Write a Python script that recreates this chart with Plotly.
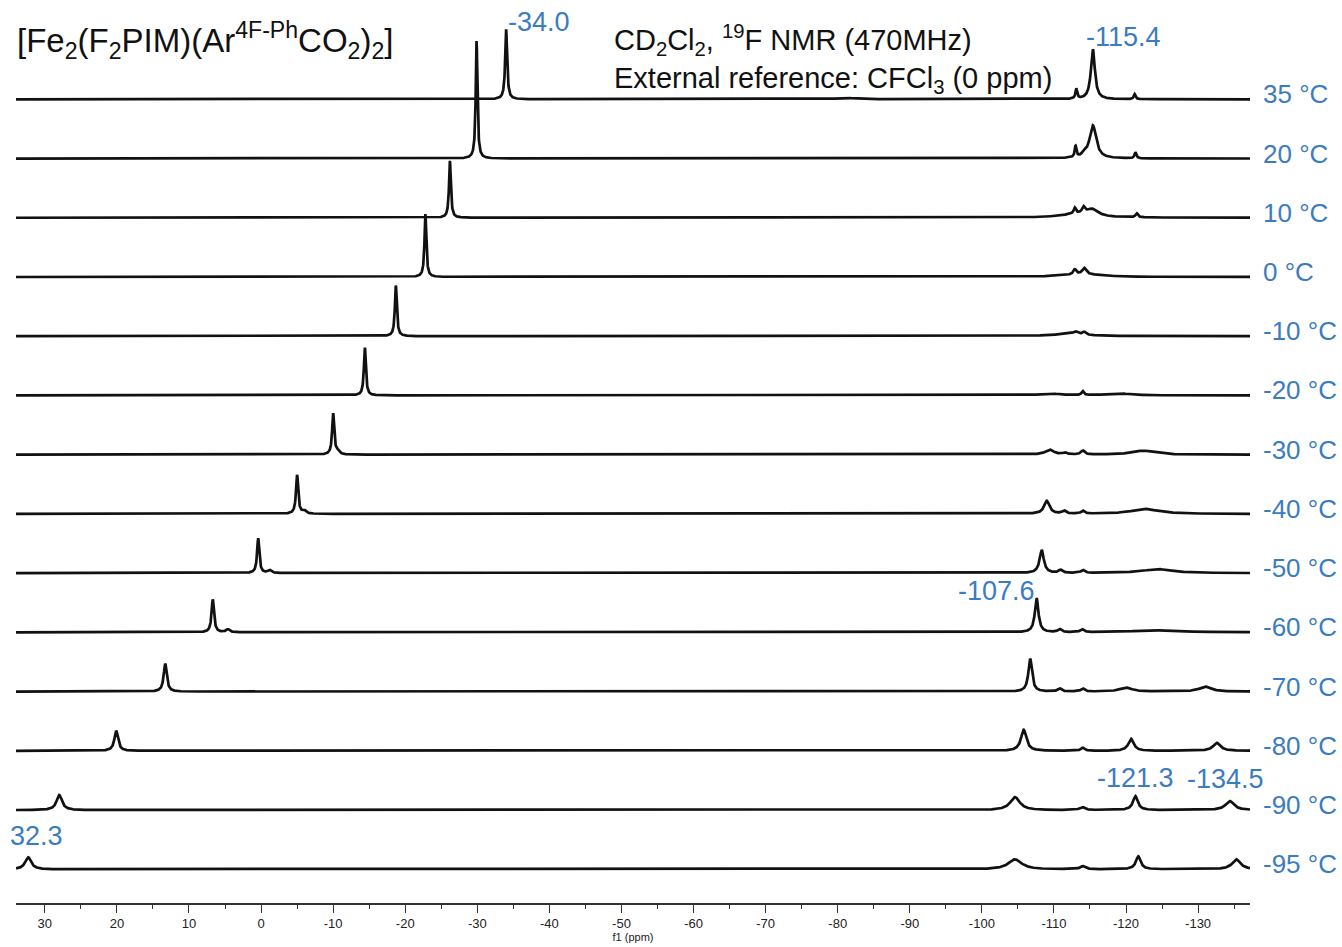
import numpy as np
import plotly.graph_objects as go

# ---------------- data ----------------
temperatures = ["35 °C", "20 °C", "10 °C", "0 °C", "-10 °C", "-20 °C", "-30 °C",
                "-40 °C", "-50 °C", "-60 °C", "-70 °C", "-80 °C", "-90 °C", "-95 °C"]

# each spectrum: list of (shift / ppm, intensity, half-width / ppm)
spec_35 = [(-34.0, 70, 0.16), (-115.4, 50, 0.33), (-113.1, 10, 0.14), (-121.2, 5, 0.15), (-81.0, 1.5, 1.5)]
spec_20 = [(-29.9, 118, 0.14), (-115.4, 33, 0.55), (-113.0, 11, 0.14), (-114.2, 4, 0.3), (-121.3, 6, 0.15)]
spec_10 = [(-26.2, 57, 0.15), (-112.9, 6, 0.2), (-114.1, 6, 0.25), (-115.3, 7, 1.0), (-113.0, 3, 3.0), (-121.5, 4, 0.2)]
spec_0 = [(-22.8, 63, 0.15), (-112.9, 5, 0.25), (-114.2, 6, 0.3), (-114.0, 3, 3.0)]
spec_m10 = [(-18.7, 51, 0.16), (-113.0, 3, 0.4), (-114.2, 3, 0.3), (-112.0, 2, 3.0)]
spec_m20 = [(-14.4, 48, 0.16), (-109.5, 2, 1.5), (-114.0, 4, 0.2), (-119.0, 2, 2.0)]
spec_m30 = [(-10.0, 41, 0.17), (-10.6, 3, 0.3), (-109.4, 5, 0.7), (-111.5, 2, 0.3), (-114.0, 4, 0.3), (-122.4, 4, 1.8)]
spec_m40 = [(-5.0, 39, 0.18), (-6.0, 3, 0.3), (-109.0, 13, 0.45), (-111.4, 3, 0.3), (-114.0, 3, 0.3), (-122.6, 5, 2.2)]
spec_m50 = [(0.4, 35, 0.18), (-1.2, 3, 0.3), (-108.3, 23, 0.35), (-110.9, 3, 0.3), (-114.0, 3, 0.3), (-124.4, 4, 2.5)]
spec_m60 = [(6.7, 33, 0.2), (4.6, 3, 0.3), (-107.6, 34, 0.3), (-110.8, 3, 0.3), (-113.9, 3, 0.3), (-124.0, 2, 4.0)]
spec_m70 = [(13.3, 28, 0.25), (-106.7, 33, 0.3), (-110.8, 3, 0.3), (-114.0, 3, 0.3), (-120.0, 4, 1.0), (-131.0, 5, 1.0)]
spec_m80 = [(20.1, 20, 0.3), (-105.8, 21, 0.45), (-114.0, 3, 0.3), (-120.7, 12, 0.45), (-132.6, 8, 0.6)]
spec_m90 = [(28.0, 15, 0.45), (-104.6, 13, 0.8), (-113.9, 3, 0.4), (-121.3, 14, 0.4), (-134.4, 9, 0.7)]
spec_m95 = [(32.3, 12, 0.5), (-104.6, 10, 1.1), (-114.0, 3, 0.4), (-121.7, 13, 0.4), (-135.3, 10, 0.7)]

spectra = [spec_35, spec_20, spec_10, spec_0, spec_m10, spec_m20, spec_m30,
           spec_m40, spec_m50, spec_m60, spec_m70, spec_m80, spec_m90, spec_m95]

tick_values = [30, 20, 10, 0, -10, -20, -30, -40, -50, -60, -70, -80, -90, -100, -110, -120, -130]
tick_labels = ["30", "20", "10", "0", "-10", "-20", "-30", "-40", "-50", "-60", "-70",
               "-80", "-90", "-100", "-110", "-120", "-130"]

peak_labels = ["-34.0", "-115.4", "-107.6", "-121.3", "-134.5", "32.3"]

# ---------------- layout constants ----------------
W, H = 1342, 947
ML, MR, MT, MB = 16, 92, 0, 44
PLOT_H = H - MT - MB
X_RANGE = [34.0, -137.2]
FIRST_BASE = 99.3      # pixel row of top baseline
STEP = 59.23           # vertical spacing between spectra in pixels
BLUE = "#3b7cc0"
FONT = "Arial, Liberation Sans, sans-serif"


def px2x(px):
    return (px - ML) / (W - ML - MR)


def py2y(py):
    return (H - MB - py) / PLOT_H


x = np.linspace(X_RANGE[0], X_RANGE[1], 7000)

fig = go.Figure()
for k, spec in enumerate(spectra):
    base = (H - MB) - (FIRST_BASE + STEP * k)
    y = np.full_like(x, base)
    for c, h, w in spec:
        y = y + h / (1.0 + ((x - c) / w) ** 2)
    fig.add_trace(go.Scatter(x=x, y=y, mode="lines",
                             line=dict(color="#111111", width=2.7),
                             hoverinfo="skip", showlegend=False))

annotations = []
# temperature labels
for k, t in enumerate(temperatures):
    py = FIRST_BASE + STEP * k - 5
    annotations.append(dict(text=t, xref="paper", yref="paper", x=px2x(1261), y=py2y(py),
                            xanchor="left", yanchor="middle", showarrow=False,
                            font=dict(family=FONT, size=26, color=BLUE)))

# peak labels (left edge px, center py)
label_pos = [(506, 22), (1084, 37), (956, 591), (1095, 778), (1185, 779), (8, 836)]
for txt, (lx, ly) in zip(peak_labels, label_pos):
    annotations.append(dict(text=txt, xref="paper", yref="paper", x=px2x(lx), y=py2y(ly),
                            xanchor="left", yanchor="middle", showarrow=False,
                            font=dict(family=FONT, size=27, color=BLUE)))

annotations.append(dict(text="[Fe<sub>2</sub>(F<sub>2</sub>PIM)(Ar<sup>4F-Ph</sup>CO<sub>2</sub>)<sub>2</sub>]",
                        xref="paper", yref="paper", x=px2x(15), y=py2y(40),
                        xanchor="left", yanchor="middle", showarrow=False,
                        font=dict(family=FONT, size=33, color="#111111")))
annotations.append(dict(text="CD<sub>2</sub>Cl<sub>2</sub>, <sup>19</sup>F NMR (470MHz)<br>"
                             "External reference: CFCl<sub>3</sub> (0 ppm)",
                        xref="paper", yref="paper", x=px2x(612), y=py2y(59),
                        xanchor="left", yanchor="middle", align="left", showarrow=False,
                        font=dict(family=FONT, size=29, color="#111111")))

fig.update_layout(
    width=W, height=H,
    margin=dict(l=ML, r=MR, t=MT, b=MB),
    paper_bgcolor="white", plot_bgcolor="white",
    annotations=annotations,
    xaxis=dict(range=X_RANGE, tickmode="array", tickvals=tick_values, ticktext=tick_labels,
               ticks="outside", ticklen=8, tickwidth=1.2, tickcolor="#333333",
               showline=True, linecolor="#333333", linewidth=1.5, showgrid=False, zeroline=False,
               tickfont=dict(family=FONT, size=13, color="#222222"),
               minor=dict(tickmode="linear", tick0=0, dtick=5, ticks="outside", ticklen=4,
                          tickwidth=1.2, tickcolor="#333333", showgrid=False),
               title=dict(text="f1 (ppm)", font=dict(family=FONT, size=11, color="#222222"), standoff=0)),
    yaxis=dict(visible=False, range=[0, PLOT_H], fixedrange=True),
)

fig.write_html("out.html")
